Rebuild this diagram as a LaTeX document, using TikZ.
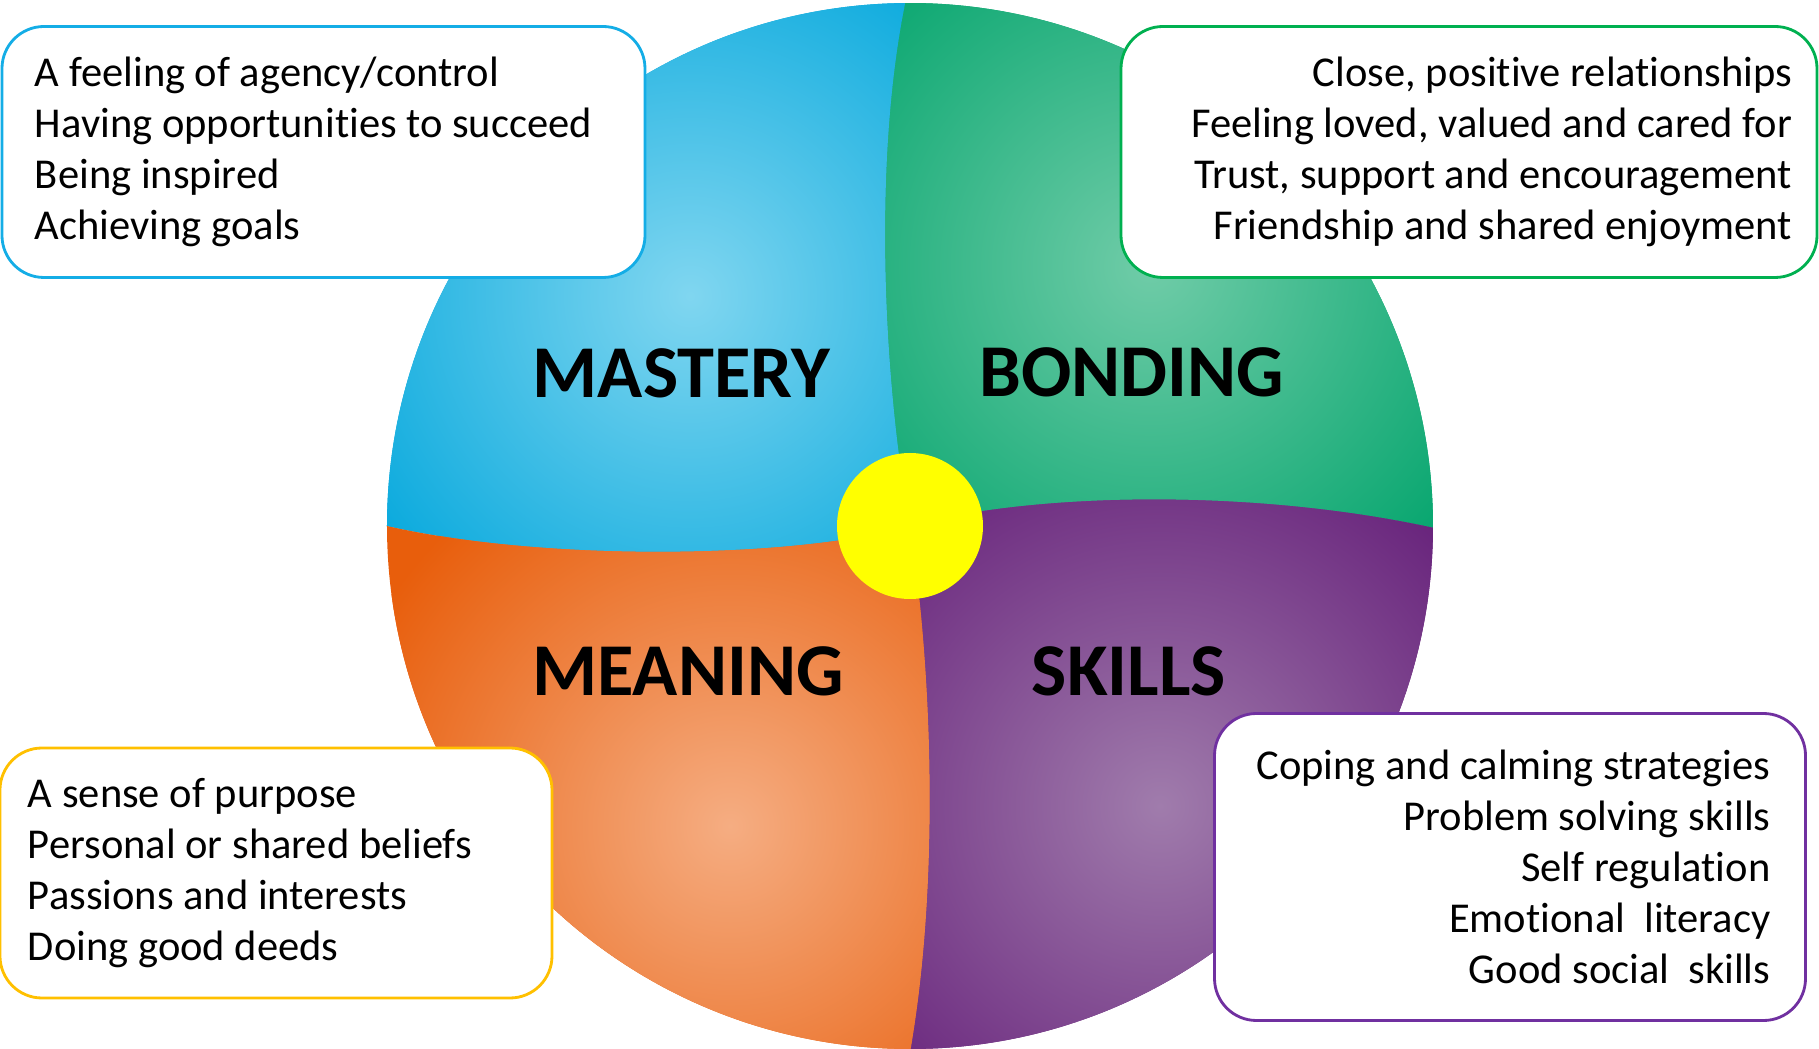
\documentclass[tikz,border=0pt]{standalone}
\usepackage{fontspec}
\setmainfont{Carlito}[Ligatures=NoCommon]

\definecolor{masterydark}{HTML}{03A7DC}
\definecolor{masterylight}{HTML}{80D6F0}
\definecolor{bondingdark}{HTML}{02A46C}
\definecolor{bondinglight}{HTML}{70CCA8}
\definecolor{meaningdark}{HTML}{E85E0C}
\definecolor{meaninglight}{HTML}{F5AD82}
\definecolor{skillsdark}{HTML}{66207A}
\definecolor{skillslight}{HTML}{A07CAC}
\definecolor{hubyellow}{HTML}{FFFF00}
\definecolor{boxblue}{HTML}{14ADE6}
\definecolor{boxgreen}{HTML}{00B050}
\definecolor{boxgold}{HTML}{FFC000}
\definecolor{boxpurple}{HTML}{7030A0}

\tikzset{
  infobox/.style={draw=#1, line width=0.8pt, fill=white, rounded corners=0.42cm,
    font=\fontsize{12.1}{14.5}\selectfont, inner ysep=0pt},
  quadlabel/.style={font=\fontsize{21.2}{25}\selectfont\bfseries}
}

% fill one quarter, then a soft glow clipped to it
\newcommand\quarter[3]{%
  \fill[#2dark] #1;
  \begin{scope}
    \clip #1;
    \shade[inner color=#2light, outer color=#2dark] #3 circle (4.1);
  \end{scope}}

\begin{document}
\begin{tikzpicture}

    \useasboundingbox (-9.10,-5.22) rectangle (9.09,5.26);
    \def\rad{5.23}

    % quarters of the wheel, bent dividers meeting at the hub
    \def\pmastery{(0,0) .. controls (-0.25,1.38) and (-0.38,3.58) .. (90.5:\rad)
      arc[start angle=90.5, end angle=180, radius=\rad]
      .. controls (-3.6,-0.37) and (-1.1,-0.32) .. (0,0) -- cycle}
    \def\pbonding{(0,0) .. controls (1.2,0.33) and (3.4,0.38) .. (-0.2:\rad)
      arc[start angle=-0.2, end angle=90.5, radius=\rad]
      .. controls (-0.38,3.58) and (-0.25,1.38) .. (0,0) -- cycle}
    \def\pskills{(0,0) .. controls (0.20,-1.22) and (0.32,-3.42) .. (-89.9:\rad)
      arc[start angle=-89.9, end angle=-0.2, radius=\rad]
      .. controls (3.4,0.38) and (1.2,0.33) .. (0,0) -- cycle}
    \def\pmeaning{(0,0) .. controls (-1.1,-0.32) and (-3.6,-0.37) .. (180:\rad)
      arc[start angle=180, end angle=270.1, radius=\rad]
      .. controls (0.32,-3.42) and (0.20,-1.22) .. (0,0) -- cycle}

    \quarter{\pmastery}{mastery}{(-2.2,2.3)}
    \quarter{\pbonding}{bonding}{(2.4,2.6)}
    \quarter{\pmeaning}{meaning}{(-1.8,-3.0)}
    \quarter{\pskills}{skills}{(2.5,-2.8)}

    \node[circle, fill=hubyellow, minimum size=1.46cm, inner sep=0pt] (hub) at (0,0) {};

    \node[quadlabel] (lmastery) at (-2.285, 1.53) {MASTERY};
    \node[quadlabel] (lbonding) at (2.22, 1.54) {BONDING};
    \node[quadlabel] (lmeaning) at (-2.22, -1.45) {MEANING};
    \node[quadlabel] (lskills) at (2.19, -1.45) {SKILLS};

    \node[infobox=boxblue, text width=5.77cm, inner xsep=0.33cm, minimum height=2.51cm,
      align=flush left] (masterybox) at (-5.865, 3.74)
      {A feeling of agency/control\\ Having opportunities to succeed\\
       Being inspired\\ Achieving goals};
    \node[infobox=boxgreen, text width=6.46cm, inner xsep=0.25cm, minimum height=2.51cm,
      align=flush right] (bondingbox) at (5.59, 3.74)
      {Close, positive relationships\\ Feeling loved, valued and cared for\\
       Trust, support and encouragement\\ Friendship and shared enjoyment};
    \node[infobox=boxgold, text width=4.96cm, inner xsep=0.28cm, minimum height=2.50cm,
      align=flush left] (meaningbox) at (-6.34, -3.47)
      {A sense of purpose\\ Personal or shared beliefs\\
       Passions and interests\\ Doing good deeds};
    \node[infobox=boxpurple, text width=5.21cm, inner xsep=0.35cm, minimum height=3.07cm,
      align=flush right] (skillsbox) at (6.00, -3.41)
      {Coping and calming strategies\\ Problem solving skills\\ Self regulation\\
       Emotional\ \ literacy\\ Good social\ \ skills};

  \end{tikzpicture}
\end{document}
